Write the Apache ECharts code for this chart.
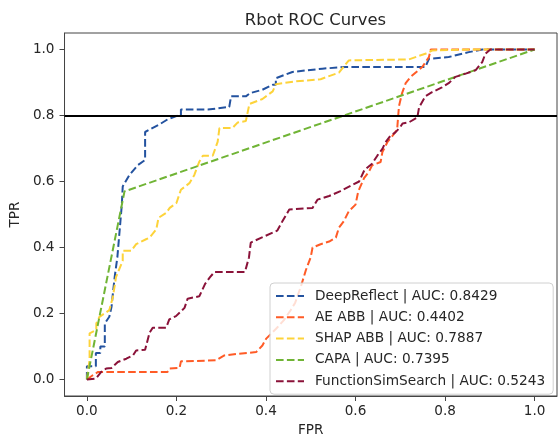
<!DOCTYPE html>
<html>
<head>
<meta charset="utf-8">
<title>Rbot ROC Curves</title>
<script src="https://cdn.jsdelivr.net/npm/echarts@6.0.0/dist/echarts.min.js"></script>
<style>
  html, body { margin: 0; padding: 0; background: #ffffff; }
  #chart { width: 558px; height: 442px; }
</style>
</head>
<body>
<div id="chart"></div>
<script>
// ROC points [fpr, tpr]
var deepReflectRoc = [
  [0, 0], [0, 0.04], [0.02, 0.04], [0.02, 0.08], [0.03, 0.08], [0.03, 0.1], [0.04, 0.1],
  [0.04, 0.17], [0.05, 0.19], [0.055, 0.22], [0.058, 0.26], [0.062, 0.31], [0.068, 0.37],
  [0.073, 0.45], [0.078, 0.53], [0.08, 0.585], [0.095, 0.62], [0.114, 0.65], [0.13, 0.665],
  [0.13, 0.75], [0.144, 0.76], [0.162, 0.773], [0.18, 0.788], [0.203, 0.8], [0.21, 0.8],
  [0.21, 0.818], [0.27, 0.818], [0.318, 0.826], [0.322, 0.826], [0.322, 0.858], [0.355, 0.858],
  [0.365, 0.868], [0.392, 0.878], [0.415, 0.893], [0.422, 0.893], [0.422, 0.913], [0.459, 0.932],
  [0.526, 0.942], [0.578, 0.947], [0.756, 0.947], [0.764, 0.972], [0.808, 0.977],
  [0.853, 0.992], [0.883, 1.0], [1, 1]
];
var aeAbbRoc = [
  [0, 0], [0.013, 0.013], [0.025, 0.023], [0.043, 0.023], [0.18, 0.023], [0.184, 0.033],
  [0.207, 0.035], [0.21, 0.055], [0.288, 0.058], [0.307, 0.073], [0.337, 0.078], [0.378, 0.083],
  [0.392, 0.103], [0.4, 0.123], [0.422, 0.153], [0.44, 0.18], [0.455, 0.21], [0.465, 0.232],
  [0.478, 0.282], [0.489, 0.331], [0.5, 0.371], [0.504, 0.4], [0.522, 0.41], [0.541, 0.418],
  [0.556, 0.43], [0.563, 0.46], [0.574, 0.48], [0.585, 0.51], [0.6, 0.53], [0.606, 0.57],
  [0.619, 0.61], [0.63, 0.63], [0.637, 0.649], [0.656, 0.659], [0.66, 0.689], [0.671, 0.719],
  [0.686, 0.744], [0.693, 0.759], [0.697, 0.828], [0.704, 0.868], [0.712, 0.898],
  [0.723, 0.917], [0.749, 0.947], [0.764, 0.977], [0.768, 1.0], [1, 1]
];
var shapAbbRoc = [
  [0, 0], [0.006, 0.06], [0.006, 0.14], [0.021, 0.15], [0.021, 0.17], [0.028, 0.19],
  [0.05, 0.21], [0.058, 0.25], [0.065, 0.31], [0.08, 0.36], [0.08, 0.39], [0.099, 0.39],
  [0.11, 0.41], [0.132, 0.425], [0.14, 0.43], [0.155, 0.455], [0.16, 0.49], [0.177, 0.505],
  [0.185, 0.52], [0.2, 0.535], [0.21, 0.575], [0.229, 0.595], [0.24, 0.62], [0.251, 0.66],
  [0.259, 0.678], [0.281, 0.678], [0.292, 0.72], [0.296, 0.762], [0.325, 0.762], [0.337, 0.779],
  [0.355, 0.783], [0.363, 0.835], [0.392, 0.85], [0.415, 0.873], [0.422, 0.895], [0.463, 0.903],
  [0.522, 0.91], [0.563, 0.93], [0.585, 0.967], [0.719, 0.97], [0.734, 0.977], [0.756, 0.987],
  [0.771, 0.997], [0.86, 1.0], [1, 1]
];
var capaRoc = [
  [0, 0], [0.084, 0.57], [1, 1]
];
var functionSimSearchRoc = [
  [0, 0], [0.02, 0.003], [0.032, 0.023], [0.043, 0.033], [0.055, 0.035], [0.069, 0.053],
  [0.088, 0.063], [0.103, 0.073], [0.11, 0.088], [0.13, 0.09], [0.14, 0.142], [0.147, 0.157],
  [0.177, 0.157], [0.184, 0.182], [0.199, 0.192], [0.218, 0.217], [0.225, 0.245], [0.251, 0.252],
  [0.264, 0.29], [0.275, 0.31], [0.285, 0.326], [0.353, 0.326], [0.362, 0.37], [0.366, 0.415],
  [0.39, 0.43], [0.425, 0.451], [0.437, 0.48], [0.452, 0.515], [0.504, 0.52], [0.515, 0.545],
  [0.541, 0.556], [0.565, 0.57], [0.589, 0.587], [0.608, 0.6], [0.62, 0.635], [0.637, 0.654],
  [0.649, 0.679], [0.66, 0.699], [0.667, 0.719], [0.678, 0.739], [0.689, 0.749], [0.7, 0.765],
  [0.705, 0.776], [0.719, 0.779], [0.738, 0.794], [0.742, 0.825], [0.756, 0.858], [0.77, 0.87],
  [0.793, 0.885], [0.808, 0.898], [0.823, 0.917], [0.846, 0.927], [0.868, 0.937],
  [0.883, 0.962], [0.89, 0.987], [0.901, 1.0], [1, 1]
];

var seriesNames = ['DeepReflect', 'AE ABB', 'SHAP ABB', 'CAPA', 'FunctionSimSearch'];
var aucValues = ['0.8429', '0.4402', '0.7887', '0.7395', '0.5243'];
var seriesColors = ['#23529f', '#ff5b26', '#fdd33a', '#70b435', '#8a1239'];
var rocData = [deepReflectRoc, aeAbbRoc, shapAbbRoc, capaRoc, functionSimSearchRoc];

var tickValues = [0, 0.2, 0.4, 0.6, 0.8, 1.0];
var thresholdTpr = 0.8;

var fontFamily = 'DejaVu Sans';
var textColor = '#262626';
var frameColor = '#444444';

var series = seriesNames.map(function (name, i) {
  return {
    name: name + ' | AUC: ' + aucValues[i],
    type: 'line',
    data: rocData[i],
    symbol: 'none',
    showSymbol: false,
    silent: true,
    color: seriesColors[i],
    lineStyle: {
      color: seriesColors[i],
      width: 2,
      type: [7.6, 3.3]
    }
  }
})

// horizontal black line at TPR = 0.8
series[0].markLine = {
  symbol: 'none',
  silent: true,
  animation: false,
  label: { show: false },
  lineStyle: { color: '#000000', type: 'solid', width: 2 },
  data: [{ yAxis: thresholdTpr }]
}

var option = {
  animation: false,
  backgroundColor: '#ffffff',
  title: {
    text: 'Rbot ROC Curves',
    left: 310.5,
    top: 8,
    textAlign: 'center',
    textStyle: {
      fontFamily: fontFamily,
      fontSize: 16.4,
      fontWeight: 'normal',
      color: textColor
    }
  },
  grid: {
    left: 64,
    right: 1,
    top: 33,
    bottom: 40,
    show: true,
    borderColor: frameColor,
    borderWidth: 1,
    backgroundColor: 'transparent'
  },
  legend: {
    orient: 'vertical',
    left: 270,
    top: 283,
    padding: [6, 8, 6, 5],
    itemWidth: 28,
    itemHeight: 14,
    itemGap: 7.3,
    backgroundColor: 'rgba(255,255,255,0.8)',
    borderColor: '#d0d0d0',
    borderWidth: 1,
    borderRadius: 4,
    itemStyle: { opacity: 0 },
    lineStyle: { width: 2, type: [7.6, 3.3] },
    textStyle: {
      fontFamily: fontFamily,
      fontSize: 13.7,
      color: textColor,
      padding: [0, 0, 0, 6]
    },
    data: series.map(function (s) { return s.name })
  },
  xAxis: {
    type: 'value',
    min: -0.05,
    max: 1.05,
    name: 'FPR',
    nameLocation: 'middle',
    nameGap: 27,
    nameTextStyle: { fontFamily: fontFamily, fontSize: 13.6, color: textColor },
    axisLine: { show: true, onZero: false, lineStyle: { color: frameColor, width: 1 } },
    axisTick: { show: true, length: 5, lineStyle: { color: frameColor }, customValues: tickValues },
    axisLabel: {
      margin: 8,
      fontFamily: fontFamily,
      fontSize: 13.6,
      color: textColor,
      customValues: tickValues,
      formatter: function (v) { return v.toFixed(1) }
    },
    splitLine: { show: false }
  },
  yAxis: {
    type: 'value',
    min: -0.05,
    max: 1.05,
    name: 'TPR',
    nameLocation: 'middle',
    nameGap: 39,
    nameRotate: 90,
    nameTextStyle: { fontFamily: fontFamily, fontSize: 13.6, color: textColor },
    axisLine: { show: true, onZero: false, lineStyle: { color: frameColor, width: 1 } },
    axisTick: { show: true, length: 5, lineStyle: { color: frameColor }, customValues: tickValues },
    axisLabel: {
      margin: 10,
      fontFamily: fontFamily,
      fontSize: 13.6,
      color: textColor,
      customValues: tickValues,
      formatter: function (v) { return v.toFixed(1) }
    },
    splitLine: { show: false }
  },
  series: series
}

var myChart = echarts.init(document.getElementById('chart'), null, { renderer: 'canvas' })
myChart.setOption(option)
</script>
</body>
</html>
